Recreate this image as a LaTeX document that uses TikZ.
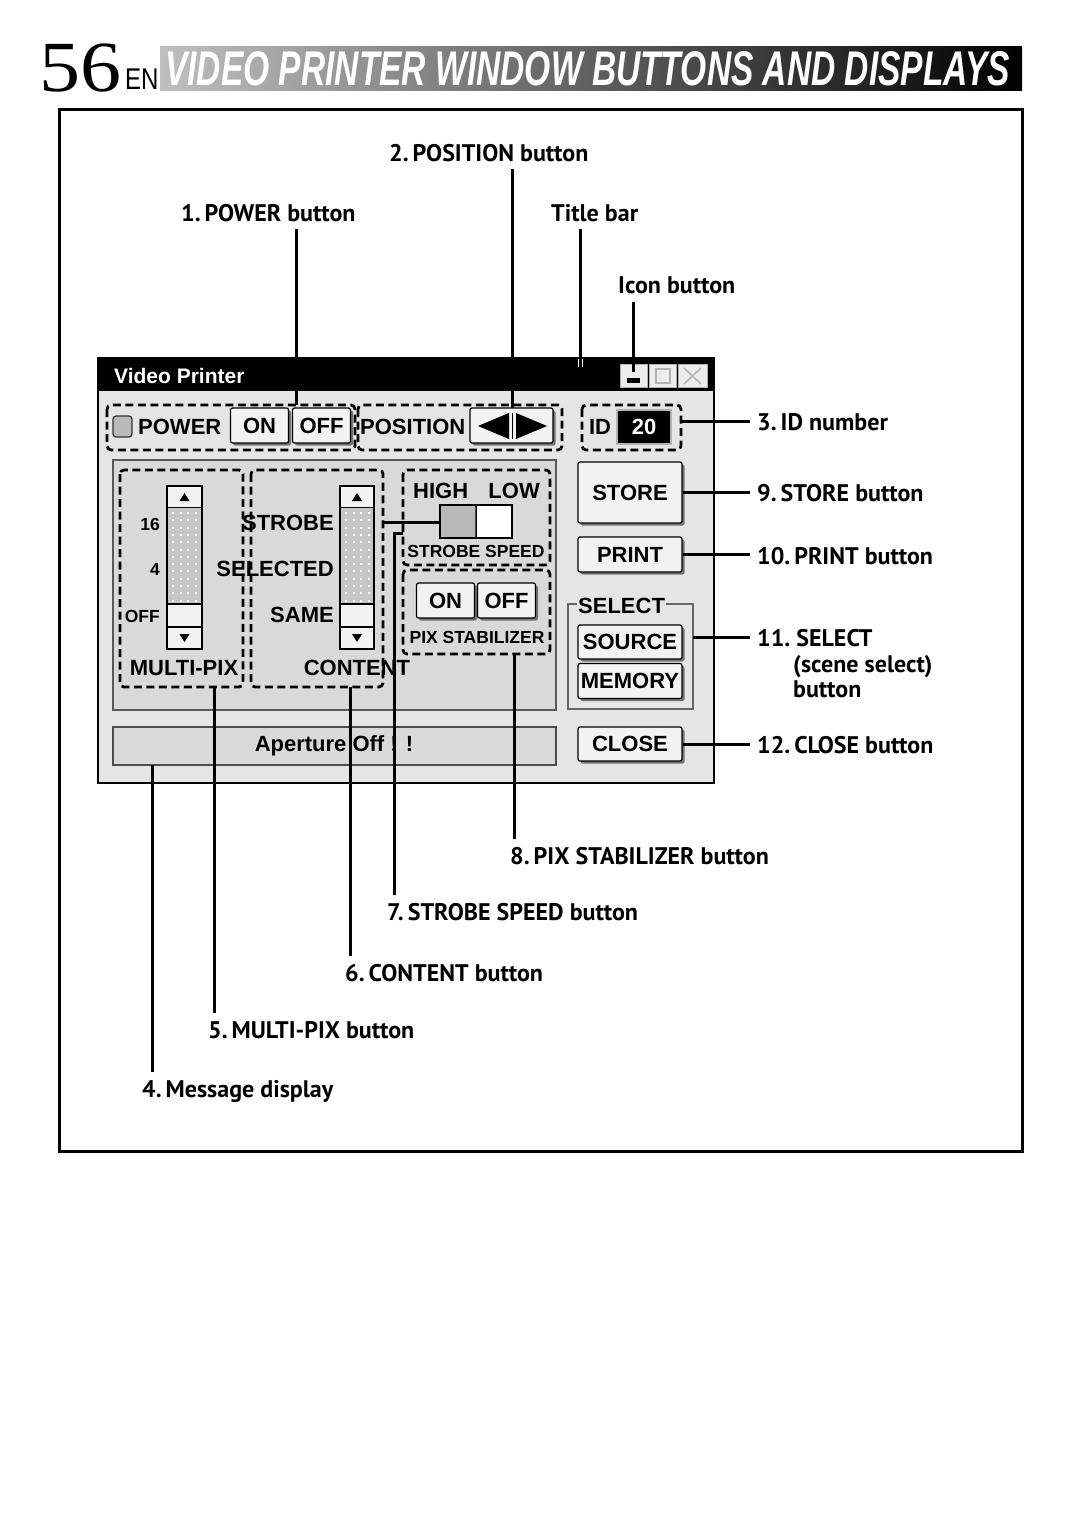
\documentclass[tikz,border=0pt]{standalone}
\usepackage{fontspec}
\setmainfont{Liberation Sans}
\newfontfamily\uifont{Liberation Sans}
\newfontfamily\lblfont{PT Sans}
\newfontfamily\numfont{Liberation Serif}
\usetikzlibrary{shadows}
\definecolor{winbg}{gray}{0.90}
\definecolor{panelbg}{gray}{0.85}
\definecolor{btnbg}{gray}{0.95}
\definecolor{btnsh}{gray}{0.45}
\tikzset{
  ui/.style={font=\uifont\bfseries\fontsize{22}{24}\selectfont, inner sep=0pt},
  uis/.style={font=\uifont\bfseries\fontsize{17.5}{19}\selectfont, inner sep=0pt},
  lbl/.style={font=\lblfont\bfseries\fontsize{24}{27}\selectfont, inner sep=0pt, anchor=base west},
  lead/.style={line width=3pt},
  dbox/.style={draw, dash pattern=on 8pt off 4.5pt, line width=2.8pt, rounded corners=4pt},
  btn/.style={draw=black, line width=1.2pt, fill=btnbg, rounded corners=2pt,
     drop shadow={shadow xshift=2.5pt, shadow yshift=-2.5pt, fill=btnsh, opacity=1}, ui},
  sbox/.style={draw=black, line width=1.2pt, fill=btnbg},
}
\newcommand\mkscroll[2]{%
  \pgfmathsetmacro\xm{(#1+#2)/2}
  \draw[sbox] (#1,486) rectangle (#2,508);
  \fill[gray!45] (#1,508) rectangle (#2,604);
  \foreach \r in {0,...,12}{\foreach \c in {0,...,3}{\fill[white] ({#1+5+\c*7.5},{512+\r*7.3}) rectangle +(2,2);}}
  \draw[sbox] (#1,604) rectangle (#2,627);
  \draw[sbox] (#1,627) rectangle (#2,649);
  \draw[line width=1.2pt] (#1,486) rectangle (#2,649);
  \fill (\xm-5,501) -- (\xm+5,501) -- (\xm,493) -- cycle;
  \fill (\xm-5,634) -- (\xm+5,634) -- (\xm,642) -- cycle;
}
\begin{document}
\begin{tikzpicture}[x=1pt,y=-1pt]
\useasboundingbox (0,0) rectangle (1080,1533);
\fill[white] (0,0) rectangle (1080,1533);

% ---------- header ----------
\shade[left color=black!25, middle color=black!65, right color=black] (160,47) rectangle (1022,91);
\node[inner sep=0pt, anchor=base west, font=\numfont\fontsize{72}{72}\selectfont] (pgnum) at (39,92) {\scalebox{1.14}[1]{56}};
\node[inner sep=0pt, anchor=base west, font=\uifont\fontsize{30}{30}\selectfont] (en) at (125,90) {\scalebox{0.8}[1]{EN}};
\node[inner sep=0pt, anchor=base west, text=white, font=\uifont\bfseries\itshape\fontsize{47}{47}\selectfont] (title) at (165,86)
  {\resizebox{845pt}{34pt}{VIDEO PRINTER WINDOW BUTTONS AND DISPLAYS}};

% ---------- frame ----------
\draw[line width=3pt] (59,110) rectangle (1022,1151);

% ---------- window ----------
\draw[line width=2.5pt, fill=winbg] (98,358) rectangle (714,783);
\fill[black] (98,358) rectangle (714,391);
\node[ui, text=white, anchor=west, font=\uifont\bfseries\fontsize{21}{23}\selectfont] (wtitle) at (114,376) {Video Printer};
% title bar buttons
\draw[fill=gray!15, draw=gray!60] (620,364) rectangle (647,387);
\draw[fill=gray!15, draw=gray!60] (649,364) rectangle (676,387);
\draw[fill=gray!15, draw=gray!60] (678,364) rectangle (707,387);
\coordinate (minbtn) at (633,372);
\fill[black] (627,378) rectangle (640,383);
\draw[gray!60, line width=1.5pt] (656,369) rectangle (670,383);
\draw[gray!60, line width=2.5pt] (656,369) -- (670,369);
\draw[gray!60, line width=1.5pt] (684,368) -- (701,384) (684,384) -- (701,368);

% dashed groups, row 1
\draw[dbox] (107,405) rectangle (355,450);
\draw[dbox] (358,405) rectangle (562,450);
\draw[dbox] (582,405) rectangle (681,450);
\coordinate (pwrtop) at (296,405);
\coordinate (idright) at (681,421);

\draw[fill=gray!55, draw=black!80, line width=1.2pt, rounded corners=3pt] (113,416) rectangle (132,437);
\node[ui, anchor=west] (power) at (138,427) {POWER};
\node[btn, minimum width=58pt, minimum height=35pt] (pon) at (259.5,425.5) {ON};
\node[btn, minimum width=58pt, minimum height=35pt] (poff) at (321.5,425.5) {OFF};
\node[ui, anchor=west] (position) at (360,427) {POSITION};
\node[btn, minimum width=83pt, minimum height=35pt] (posbtn) at (511.5,425.5) {};
\fill (478,426) -- (509,413) -- (509,439) -- cycle;
\fill (516,413) -- (516,439) -- (547,426) -- cycle;
\draw[line width=1.5pt] (512.5,413) -- (512.5,439);
\node[ui, anchor=center] (idlbl) at (600,427) {ID};
\node[draw=gray!60, line width=1.5pt, fill=black, minimum width=54pt, minimum height=34pt, inner sep=0pt,
      text=white, font=\uifont\bfseries\fontsize{22}{24}\selectfont] (idnum) at (644,427) {20};

% inner panel
\draw[fill=panelbg, draw=black!65, line width=2.5pt] (113,460) rectangle (556,710);
\draw[dbox] (120,470) rectangle (243,687);
\draw[dbox] (251,470) rectangle (383,687);
\draw[dbox] (403,470) rectangle (550,565);
\draw[dbox] (403,570) rectangle (550,654);

\mkscroll{167}{202}
\mkscroll{340}{374}
\node[uis, anchor=east] (m16) at (160,524) {16};
\node[uis, anchor=east] (m4) at (160,569) {4};
\node[uis, anchor=east] (moff) at (160,616) {OFF};
\node[ui] (multipix) at (184,668) {MULTI-PIX};
\node[ui, anchor=east] (strobe) at (334,523) {STROBE};
\node[ui, anchor=east] (selected) at (334,569) {SELECTED};
\node[ui, anchor=east] (same) at (334,615) {SAME};
\node[ui] (content) at (357,668) {CONTENT};

\node[ui, anchor=west] (high) at (413,491) {HIGH};
\node[ui, anchor=east] (low) at (540,491) {LOW};
\draw[fill=gray!55, draw=black!70, line width=1.5pt] (440,505) rectangle (476,538);
\draw[fill=white] (476,505) rectangle (512,538);
\draw[line width=1.2pt] (440,505) rectangle (512,538);
\coordinate (toggle) at (440,522);
\node[uis] (strobespeed) at (476,551) {STROBE SPEED};
\node[btn, minimum width=58pt, minimum height=35pt] (son) at (445.5,600.5) {ON};
\node[btn, minimum width=58pt, minimum height=35pt] (soff) at (506.5,600.5) {OFF};
\node[uis] (pixstab) at (477,637) {PIX STABILIZER};

% right column
\node[btn, minimum width=104pt, minimum height=61pt] (store) at (630,492.5) {STORE};
\node[btn, minimum width=104pt, minimum height=35pt] (print) at (630,554.5) {PRINT};
\draw[black!60, line width=1.2pt] (568,604) rectangle (693,709);
\node[ui, fill=winbg, inner xsep=1pt, anchor=west] (selectlbl) at (577,606) {SELECT};
\node[btn, minimum width=104pt, minimum height=34pt] (source) at (630,642) {SOURCE};
\node[btn, minimum width=104pt, minimum height=35pt] (memory) at (630,681) {MEMORY};
\node[btn, minimum width=104pt, minimum height=34pt] (close) at (630,744) {CLOSE};

% message display
\draw[fill=panelbg, draw=black!70, line width=2pt] (113,727) rectangle (556,765);
\node[ui] (msg) at (334,746) {Aperture Off ! !};

% ---------- labels ----------
\node[lbl] (l2) at (389,162) {2.\thinspace POSITION button};
\node[lbl] (l1) at (181,222) {1.\thinspace POWER button};
\node[lbl] (ltb) at (551,222) {Title bar};
\node[lbl] (lic) at (618,293) {Icon button};
\node[lbl] (l3) at (757,430) {3.\thinspace ID number};
\node[lbl] (l9) at (757,501) {9.\thinspace STORE button};
\node[lbl] (l10) at (757,564) {10.\thinspace PRINT button};
\node[lbl] (l11) at (757,646) {11.\ SELECT};
\node[lbl] (l11b) at (793,672) {(scene select)};
\node[lbl] (l11c) at (793,697) {button};
\node[lbl] (l12) at (757,753) {12.\thinspace CLOSE button};
\node[lbl] (l8) at (510,864) {8.\thinspace PIX STABILIZER button};
\node[lbl] (l7) at (387,920) {7.\thinspace STROBE SPEED button};
\node[lbl] (l6) at (345,981) {6.\thinspace CONTENT button};
\node[lbl] (l5) at (208,1038) {5.\thinspace MULTI-PIX button};
\node[lbl] (l4) at (142,1097) {4.\thinspace Message display};

% ---------- leader lines ----------
\coordinate (tbar) at (580,367);
\coordinate (postop) at (512,408);
\coordinate (selright) at (693,637);
\coordinate (pixbot) at (514,654);
\coordinate (strobeleft) at (403,533);
\coordinate (contbot) at (350,687);
\coordinate (multibot) at (214,687);
\coordinate (msgbot) at (152,765);
\coordinate (contright) at (383,522);

\draw[lead] ([yshift=-6pt]l1.south -| pwrtop) -- (pwrtop);
\draw[lead] ([yshift=-6pt]l2.south -| postop) -- (postop);
\draw[white, line width=5pt] (580,359) -- (tbar);
\draw[lead] ([yshift=-6pt]ltb.south -| tbar) -- (tbar);
\draw[lead] ([yshift=-8pt]lic.south -| minbtn) -- (minbtn);
\draw[lead] (idright) -- ([xshift=-7pt]idright -| l3.west);
\draw[lead] (store.east) -- ([xshift=-7pt]store.east -| l9.west);
\draw[lead] (print.east) -- ([xshift=-7pt]print.east -| l10.west);
\draw[lead] (selright) -- ([xshift=-7pt]selright -| l11.west);
\draw[lead] (close.east) -- ([xshift=-7pt]close.east -| l12.west);
\draw[lead] (pixbot) -- ([yshift=8pt]pixbot |- l8.north);
\draw[lead] (strobeleft) -- (394,533) -- ([yshift=8pt]394,533 |- l7.north);
\draw[lead] (contbot) -- ([yshift=8pt]contbot |- l6.north);
\draw[lead] (multibot) -- ([yshift=8pt]multibot |- l5.north);
\draw[lead] (msgbot) -- ([yshift=8pt]msgbot |- l4.north);
\draw[lead] (contright) -- (toggle);
\end{tikzpicture}
\end{document}
